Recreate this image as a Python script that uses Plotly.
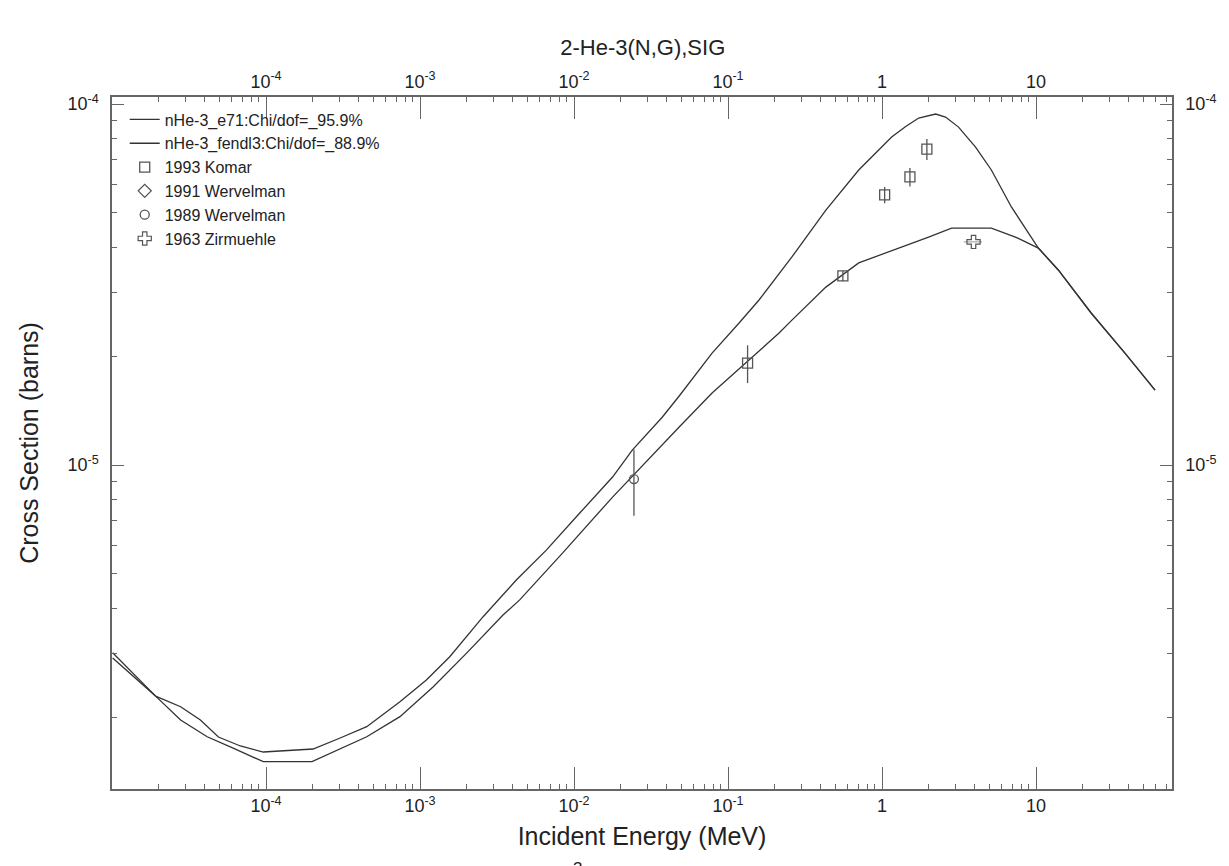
import plotly.graph_objects as go

# ---- evaluated curves (energy in MeV, cross section in barns) ----
e71_E = [1.01e-5, 1.92e-5, 2.79e-5, 3.75e-5, 4.91e-5, 6.82e-5, 9.6e-5, 1.67e-4, 2.02e-4,
         3.03e-4, 4.51e-4, 7.41e-4, 1.10e-3, 1.56e-3, 2.57e-3, 4.22e-3, 6.61e-3, 1.09e-2,
         1.78e-2, 2.39e-2, 3.75e-2, 4.82e-2, 7.88e-2, 0.118, 0.159, 0.260, 0.432, 0.706,
         1.155, 1.418, 1.73, 2.23, 2.585, 3.14, 4.05, 5.13, 6.92, 10.35, 13.95, 22.8, 37.8, 59.3]
e71_sig = [2.92e-6, 2.29e-6, 2.14e-6, 1.966e-6, 1.764e-6, 1.666e-6, 1.603e-6, 1.624e-6, 1.634e-6,
           1.753e-6, 1.884e-6, 2.21e-6, 2.537e-6, 2.944e-6, 3.80e-6, 4.80e-6, 5.81e-6, 7.36e-6,
           9.26e-6, 1.100e-5, 1.358e-5, 1.553e-5, 2.042e-5, 2.474e-5, 2.865e-5, 3.77e-5, 5.085e-5, 6.565e-5,
           8.10e-5, 8.65e-5, 9.146e-5, 9.38e-5, 9.20e-5, 8.63e-5, 7.60e-5, 6.565e-5, 5.186e-5,
           3.99e-5, 3.47e-5, 2.637e-5, 2.042e-5, 1.613e-5]

fendl3_E = [1.01e-5, 1.92e-5, 2.79e-5, 4.15e-5, 6.17e-5, 9.6e-5, 1.99e-4, 3.03e-4, 4.51e-4,
            7.41e-4, 1.22e-3, 2.00e-3, 3.46e-3, 4.44e-3, 8.42e-3, 1.78e-2, 2.39e-2, 4.82e-2,
            7.88e-2, 0.131, 0.2146, 0.260, 0.432, 0.706, 1.056, 1.489, 2.006, 2.83, 5.13, 7.35,
            10.35, 13.95, 22.8, 37.8, 59.3]
fendl3_sig = [3.02e-6, 2.29e-6, 1.966e-6, 1.767e-6, 1.641e-6, 1.507e-6, 1.507e-6, 1.634e-6, 1.767e-6,
              2.009e-6, 2.431e-6, 3.008e-6, 3.84e-6, 4.23e-6, 5.70e-6, 8.15e-6, 9.32e-6, 1.274e-5,
              1.582e-5, 1.916e-5, 2.32e-5, 2.52e-5, 3.11e-5, 3.63e-5, 3.865e-5, 4.07e-5, 4.28e-5, 4.53e-5,
              4.53e-5, 4.28e-5, 3.99e-5, 3.47e-5, 2.637e-5, 2.042e-5, 1.613e-5]

# ---- experimental data ----
komar_E = [0.134, 0.557, 1.04, 1.518, 1.956]
komar_sig = [1.916e-5, 3.34e-5, 5.60e-5, 6.28e-5, 7.50e-5]
komar_err = [2.3e-6, 1.1e-6, 2.9e-6, 3.7e-6, 5.0e-6]

wer91_E = [None]
wer91_sig = [None]

wer89_E = [0.0245]
wer89_sig = [9.14e-6]
wer89_err = [1.9e-6]

zir_E = [3.93]
zir_sig = [4.15e-5]
zir_Eerr = [0.53]

# ---- axis ticks ----
x_tickvals = [1e-4, 1e-3, 1e-2, 1e-1, 1, 10]
x_ticktext = ["10<sup>-4</sup>", "10<sup>-3</sup>", "10<sup>-2</sup>", "10<sup>-1</sup>", "1", "10"]
y_tickvals = [1e-5, 1e-4]
y_ticktext = ["10<sup>-5</sup>", "10<sup>-4</sup>"]
x_minor = [m * 10.0 ** d for d in range(-5, 2) for m in range(2, 10)]
y_minor = [m * 10.0 ** d for d in range(-6, -4) for m in range(2, 10)]

FONT = "Liberation Sans, Arial, sans-serif"
LINE = "#333333"
MARK = "#555555"
AX = "#666666"

fig = go.Figure()
fig.add_trace(go.Scatter(x=e71_E, y=e71_sig, mode="lines", name="nHe-3_e71:Chi/dof=_95.9%",
                         line=dict(color=LINE, width=1.3)))
fig.add_trace(go.Scatter(x=fendl3_E, y=fendl3_sig, mode="lines", name="nHe-3_fendl3:Chi/dof=_88.9%",
                         line=dict(color=LINE, width=1.3)))
fig.add_trace(go.Scatter(x=komar_E, y=komar_sig, mode="markers", name="1993 Komar",
                         marker=dict(symbol="square-open", size=10, color=MARK, line=dict(width=1.3)),
                         error_y=dict(type="data", array=komar_err, color=MARK, thickness=1.3, width=0)))
fig.add_trace(go.Scatter(x=wer91_E, y=wer91_sig, mode="markers", name="1991 Wervelman",
                         marker=dict(symbol="diamond-open", size=10, color=MARK, line=dict(width=1.3))))
fig.add_trace(go.Scatter(x=wer89_E, y=wer89_sig, mode="markers", name="1989 Wervelman",
                         marker=dict(symbol="circle-open", size=9, color=MARK, line=dict(width=1.3)),
                         error_y=dict(type="data", array=wer89_err, color=MARK, thickness=1.3, width=0)))
fig.add_trace(go.Scatter(x=zir_E, y=zir_sig, mode="markers", name="1963 Zirmuehle",
                         marker=dict(symbol="cross-open", size=11, color=MARK, line=dict(width=1.2)),
                         error_x=dict(type="data", array=zir_Eerr, color="#999999", thickness=1, width=0)))
# invisible trace to carry the top/right axes
fig.add_trace(go.Scatter(x=e71_E, y=e71_sig, xaxis="x2", yaxis="y2", mode="lines",
                         line=dict(color="rgba(0,0,0,0)"), showlegend=False, hoverinfo="skip"))

xrange = [-5.0, 1.883]
yrange = [-5.8975, -3.9806]

common_x = dict(type="log", range=xrange, tickmode="array", tickvals=x_tickvals, ticktext=x_ticktext,
                ticks="inside", ticklen=22, tickwidth=1.2, tickcolor=AX,
                showline=True, linecolor=AX, linewidth=1.5, showgrid=False, zeroline=False,
                tickfont=dict(family=FONT, size=18, color="#222"),
                minor=dict(tickmode="array", tickvals=x_minor, ticks="inside", ticklen=5,
                           tickcolor=AX, tickwidth=1, showgrid=False))
common_y = dict(type="log", range=yrange, tickmode="array", tickvals=y_tickvals, ticktext=y_ticktext,
                ticks="inside", ticklen=12, tickwidth=1.2, tickcolor=AX,
                showline=True, linecolor=AX, linewidth=1.5, showgrid=False, zeroline=False,
                tickfont=dict(family=FONT, size=18, color="#222"), ticklabelstandoff=8,
                minor=dict(tickmode="array", tickvals=y_minor, ticks="inside", ticklen=5,
                           tickcolor=AX, tickwidth=1, showgrid=False))

fig.update_layout(
    width=1229, height=866, autosize=False,
    margin=dict(l=112, r=55, t=97, b=77),
    paper_bgcolor="white", plot_bgcolor="white",
    font=dict(family=FONT, color="#222"),
    title=dict(text="2-He-3(N,G),SIG", x=0.523, xanchor="center", y=0.945, yanchor="middle",
               font=dict(family=FONT, size=22, color="#222")),
    xaxis=dict(**common_x, side="bottom",
               title=dict(text="Incident Energy (MeV)", standoff=12,
                          font=dict(family=FONT, size=25, color="#222"))),
    xaxis2=dict(**common_x, side="top", overlaying="x", matches="x"),
    yaxis=dict(**common_y, side="left",
               title=dict(text="Cross Section (barns)", standoff=22,
                          font=dict(family=FONT, size=25, color="#222"))),
    yaxis2=dict(**common_y, side="right", overlaying="y", matches="y"),
    legend=dict(x=0.012, y=0.992, xanchor="left", yanchor="top", bgcolor="rgba(0,0,0,0)",
                font=dict(family=FONT, size=16, color="#222"), itemwidth=30,
                tracegroupgap=0),
    showlegend=True,
)

fig.add_annotation(text="3", xref="paper", yref="paper", x=0.4388, y=-0.098,
                   xanchor="center", yanchor="top", showarrow=False,
                   font=dict(family=FONT, size=17, color="#222"))

fig.write_html("out.html")
